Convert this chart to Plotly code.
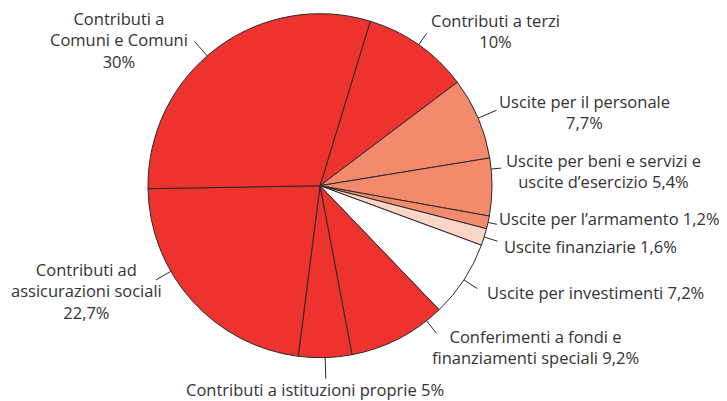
import math
import plotly.graph_objects as go

# ---- data ----
labels = [
    "Contributi a terzi",
    "Uscite per il personale",
    "Uscite per beni e servizi e uscite d'esercizio",
    "Uscite per l'armamento",
    "Uscite finanziarie",
    "Uscite per investimenti",
    "Conferimenti a fondi e finanziamenti speciali",
    "Contributi a istituzioni proprie",
    "Contributi ad assicurazioni sociali",
    "Contributi a Comuni e Comuni",
]
values = [10, 7.7, 5.4, 1.2, 1.6, 7.2, 9.2, 5, 22.7, 30]
label_texts = [
    "Contributi a terzi<br>10%",
    "Uscite per il personale<br>7,7%",
    "Uscite per beni e servizi e<br>uscite d\u2019esercizio 5,4%",
    "Uscite per l\u2019armamento 1,2%",
    "Uscite finanziarie 1,6%",
    "Uscite per investimenti 7,2%",
    "Conferimenti a fondi e<br>finanziamenti speciali 9,2%",
    "Contributi a istituzioni proprie 5%",
    "Contributi ad<br>assicurazioni sociali<br>22,7%",
    "Contributi a<br>Comuni e Comuni<br>30%",
]
RED, SALMON, PINK, WHITE = "#EE322D", "#F48A6C", "#FBD5C5", "#FFFFFF"
colors = [RED, SALMON, SALMON, SALMON, PINK, WHITE, RED, RED, RED, RED]

# ---- layout geometry (pixels, in the visible window) ----
W, H = 727, 401
OFF = 8  # page body margin offset
CX, CY, R = 320, 185.7, 172
START = 17  # degrees clockwise from 12 o'clock

label_pos = [(495, 31), (584, 112), (603, 171), (609, 218), (590, 247),
             (595, 292), (535, 347), (315, 389), (86, 291), (119, 40)]
angle_tweak = [0, 0, -6, 0, 0, 0, -11, 0, 12, -4]
line_len = [14, 20, 10, 9, 14, 16, 16, 21, 17, 19]


def px2paper(x, y):
    return (x - OFF) / W, 1 - (y - OFF) / H


dx0, dy1 = px2paper(CX - R, CY - R)
dx1, dy0 = px2paper(CX + R, CY + R)

fig = go.Figure(go.Pie(
    labels=labels,
    values=values,
    sort=False,
    direction="clockwise",
    rotation=START,
    marker=dict(colors=colors, line=dict(color="#2a2a2a", width=1)),
    textinfo="none",
    hoverinfo="label+percent",
    domain=dict(x=[dx0, dx1], y=[dy0, dy1]),
    showlegend=False,
))

total = sum(values)
cum = 0
shapes = []
annotations = []
for i, v in enumerate(values):
    a0 = START + cum / total * 360
    cum += v
    a1 = START + cum / total * 360
    mid = (a0 + a1) / 2 + angle_tweak[i]
    t = math.radians(mid)
    ux, uy = math.sin(t), -math.cos(t)
    sx, sy = CX + R * ux, CY + R * uy
    ex, ey = sx + line_len[i] * ux, sy + line_len[i] * uy
    x0, y0 = px2paper(sx, sy)
    x1, y1 = px2paper(ex, ey)
    shapes.append(dict(type="line", xref="paper", yref="paper", x0=x0, y0=y0, x1=x1, y1=y1,
                       line=dict(color="#2a2a2a", width=1)))
    lx, ly = px2paper(*label_pos[i])
    annotations.append(dict(text=label_texts[i], x=lx, y=ly, xref="paper", yref="paper",
                            xanchor="center", yanchor="middle", align="center", showarrow=False,
                            font=dict(family="Open Sans", size=16.5, color="#333333")))

fig.update_layout(
    width=W, height=H,
    margin=dict(l=0, r=0, t=0, b=0),
    paper_bgcolor="white",
    plot_bgcolor="white",
    shapes=shapes,
    annotations=annotations,
)

fig.write_html("out.html")
